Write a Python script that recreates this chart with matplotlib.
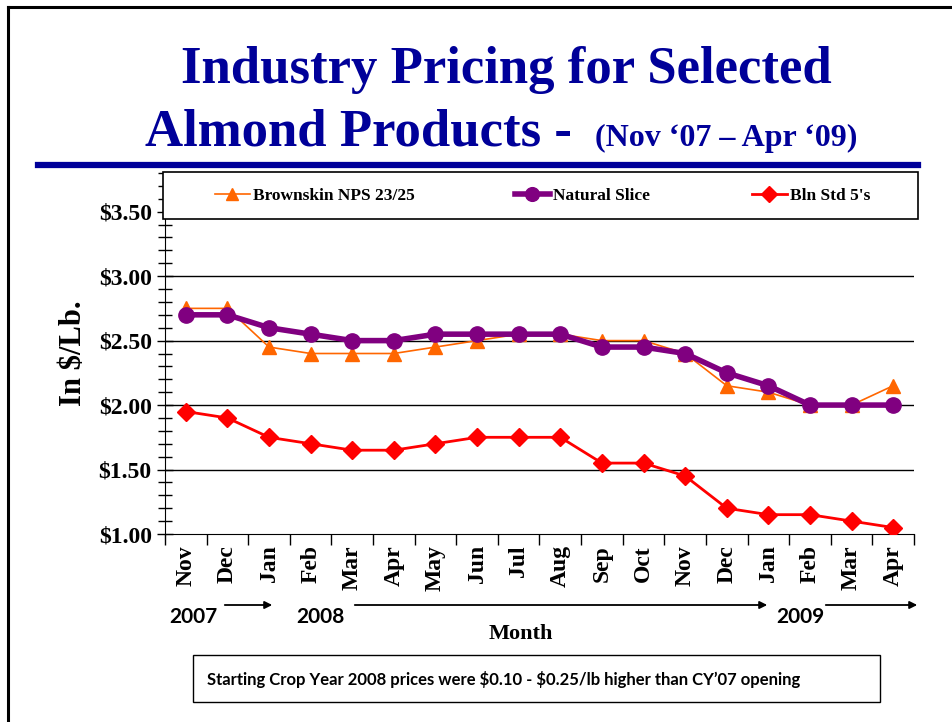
import matplotlib
matplotlib.use("Agg")
import matplotlib.pyplot as plt
from matplotlib.ticker import MultipleLocator, FixedLocator, NullFormatter

months = ["Nov", "Dec", "Jan", "Feb", "Mar", "Apr", "May", "Jun", "Jul",
          "Aug", "Sep", "Oct", "Nov", "Dec", "Jan", "Feb", "Mar", "Apr"]
brownskin = [2.75, 2.75, 2.45, 2.40, 2.40, 2.40, 2.45, 2.50, 2.55,
             2.55, 2.50, 2.50, 2.40, 2.15, 2.10, 2.00, 2.00, 2.15]
natural_slice = [2.70, 2.70, 2.60, 2.55, 2.50, 2.50, 2.55, 2.55, 2.55,
                 2.55, 2.45, 2.45, 2.40, 2.25, 2.15, 2.00, 2.00, 2.00]
bln_std = [1.95, 1.90, 1.75, 1.70, 1.65, 1.65, 1.70, 1.75, 1.75,
           1.75, 1.55, 1.55, 1.45, 1.20, 1.15, 1.15, 1.10, 1.05]
y_ticks = [1.0, 1.5, 2.0, 2.5, 3.0, 3.5]
y_labels = ["\\$1.00", "\\$1.50", "\\$2.00", "\\$2.50", "\\$3.00", "\\$3.50"]

serif = "Liberation Serif"
sans = "Lato"
navy = "#000099"

W, H = 953, 722
fig = plt.figure(figsize=(W / 100, H / 100), dpi=100)

def fx(px):
    return px / W

def fy(py):
    return 1 - py / H

# slide frame (top and left edges) and blue rule under the title
fig.add_artist(plt.Line2D([fx(8), fx(8)], [fy(7), 0], color="black", lw=2.2))
fig.add_artist(plt.Line2D([fx(8), 1], [fy(7), fy(7)], color="black", lw=2.2))
fig.add_artist(plt.Line2D([fx(38), fx(918)], [fy(165), fy(165)], color=navy, lw=4.5))

fig.text(fx(506), fy(70), "Industry Pricing for Selected", ha="center", va="center",
         fontsize=38, fontweight="bold", family=serif, color=navy)
fig.text(fx(145), fy(132), "Almond Products -", ha="left", va="center",
         fontsize=38, fontweight="bold", family=serif, color=navy)
fig.text(fx(595), fy(138), "(Nov \u201807 \u2013 Apr \u201809)", ha="left", va="center",
         fontsize=23, fontweight="bold", family=serif, color=navy)

ax = fig.add_axes([fx(165), fy(534), fx(914 - 165), fy(173) - fy(534)])
x = list(range(len(months)))

l1, = ax.plot(x, brownskin, color="#FF6600", lw=1.2, marker="^", ms=10,
              label="Brownskin NPS 23/25", zorder=3)
l2, = ax.plot(x, natural_slice, color="#800080", lw=4, marker="o", ms=11,
              label="Natural Slice", zorder=4)
l3, = ax.plot(x, bln_std, color="#FF0000", lw=2, marker="D", ms=9,
              label="Bln Std 5's", zorder=5)

ax.set_xlim(-0.5, len(months) - 0.5)
ax.set_ylim(1.0, 3.8)
ax.set_yticks(y_ticks)
ax.set_yticklabels(y_labels, fontsize=17, fontweight="bold", family=serif)
ax.yaxis.set_minor_locator(MultipleLocator(0.1))
ax.tick_params(axis="y", which="major", direction="inout", length=12, width=1)
ax.tick_params(axis="y", which="minor", direction="inout", length=10, width=1)
for v in [1.5, 2.0, 2.5, 3.0, 3.5]:
    ax.axhline(v, color="black", lw=1, zorder=1)

ax.set_xticks(x)
ax.set_xticklabels(months, rotation=90, fontsize=17, fontweight="bold", family=serif)
ax.tick_params(axis="x", which="major", length=0, pad=8)
ax.xaxis.set_minor_locator(FixedLocator([i - 0.5 for i in range(len(months) + 1)]))
ax.xaxis.set_minor_formatter(NullFormatter())
ax.tick_params(axis="x", which="minor", direction="out", length=8, width=1)

ax.spines["top"].set_visible(False)
ax.spines["right"].set_visible(False)

ax.set_ylabel("In \\$/Lb.", fontsize=22, fontweight="bold", family=serif, labelpad=8)

# legend: white box across the top of the plot with three entries
fig.add_artist(plt.Rectangle((fx(163), fy(219)), fx(918 - 163), fy(172) - fy(219),
                             transform=fig.transFigure, fc="white", ec="black", lw=1.2, zorder=6))
for handle, px in [(l1, 215), (l2, 515), (l3, 752)]:
    lg = fig.legend(handles=[handle], loc="center left", bbox_to_anchor=(fx(px), fy(196)),
                    frameon=False, borderaxespad=0, borderpad=0,
                    prop={"family": serif, "weight": "bold", "size": 12.5},
                    handlelength=2.0, handletextpad=0.2, markerscale=0.9)
    lg.set_zorder(7)

# years and arrows under the month labels
for px, label in [(193, "2007"), (320, "2008"), (800, "2009")]:
    fig.text(fx(px), fy(617), label, ha="center", va="center",
             fontsize=15, fontweight="bold", family=sans)
for x0, x1 in [(222, 275), (352, 770), (823, 920)]:
    fig.add_artist(matplotlib.patches.FancyArrowPatch(
        (fx(x0), fy(605)), (fx(x1), fy(605)), transform=fig.transFigure,
        arrowstyle="-|>", mutation_scale=11, color="black", lw=1.3))

fig.text(fx(521), fy(634), "Month", ha="center", va="center",
         fontsize=16, fontweight="bold", family=serif)

fig.add_artist(plt.Rectangle((fx(193), fy(702)), fx(880 - 193), fy(655) - fy(702),
                             transform=fig.transFigure, fill=False, ec="black", lw=1))
fig.text(fx(207), fy(679), "Starting Crop Year 2008 prices were \\$0.10 - \\$0.25/lb higher than CY\u201907 opening",
         ha="left", va="center", fontsize=12, fontweight="bold", family=sans)

fig.savefig("out.png", dpi=100)
